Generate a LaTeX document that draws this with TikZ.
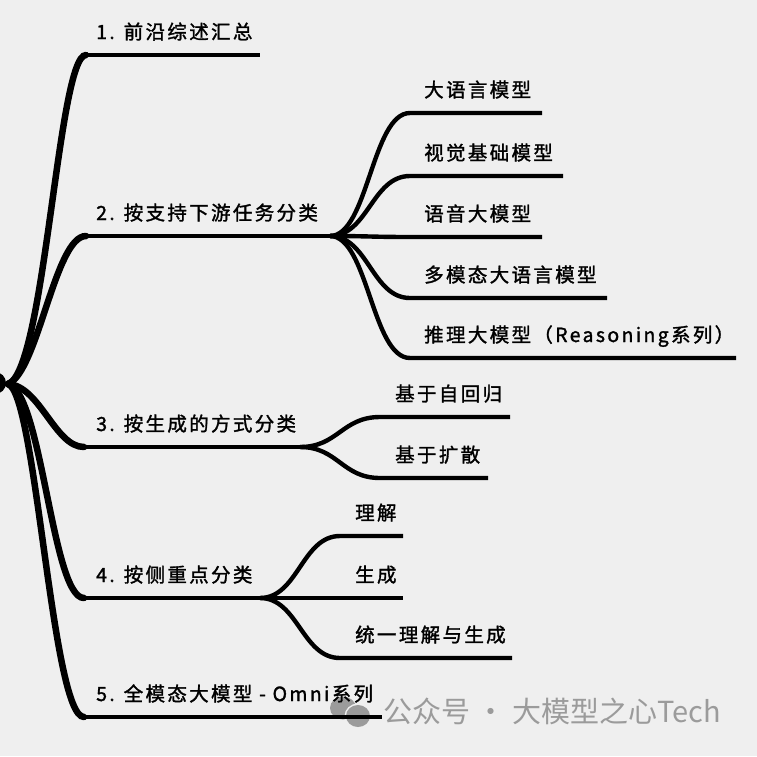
\documentclass[tikz,border=0pt]{standalone}
\usepackage{fontspec}
\newfontfamily\cjk[LetterSpace=12,FakeBold=1.5]{Noto Sans CJK SC}
\newfontfamily\wmfont{Noto Sans CJK SC}
\usetikzlibrary{positioning}
\definecolor{paper}{RGB}{239,239,239}
\definecolor{wmgray}{RGB}{155,155,155}

\tikzset{
	stem/.style={line width=6.5pt, line cap=round},
	bar/.style={line width=4.8pt, line cap=butt},
	twig/.style={line width=4.4pt, line cap=butt},
	lbl/.style={font=\cjk\fontsize{19.5}{22}\selectfont, anchor=base west, inner sep=0pt},
}

\begin{document}
\begin{tikzpicture}[x=1pt,y=-1pt]
	\fill[paper] (0,0) rectangle (757,756);
	\useasboundingbox (0,0) rectangle (757,756);
	
	% watermark icon, under the lines
	\fill[wmgray] (343,708) ellipse (13 and 11.5);
	\fill[paper] (358,716) ellipse (13.5 and 12.5);
	\fill[wmgray] (358,716) ellipse (12 and 11);
	
	% root
	\coordinate (root) at (8,384);
	\fill (-5,383) circle (11pt);
	
	% main branches
	\coordinate (s1) at (86,55);   \coordinate (e1) at (260,55);
	\coordinate (s2) at (86,236);  \coordinate (f2) at (330,236);
	\coordinate (s3) at (84,447);  \coordinate (f3) at (300,447);
	\coordinate (s4) at (84,598);  \coordinate (f4) at (260,598);
	\coordinate (s5) at (84,717);  \coordinate (e5) at (382,717);
	
	\draw[stem] (root) .. controls (45,372) and (58,55) .. (s1);
	\draw[stem] (root) .. controls (38,372) and (55,236) .. (s2);
	\draw[stem] (root) .. controls (40,386) and (55,447) .. (s3);
	\draw[stem] (root) .. controls (42,392) and (52,598) .. (s4);
	\draw[stem] (root) .. controls (36,392) and (52,717) .. (s5);
	\draw[bar] (s1) -- (e1);
	\draw[bar] (s2) -- (f2);
	\draw[bar] (s3) -- (f3);
	\draw[bar] (s4) -- (f4);
	\draw[bar] (s5) -- (e5);
	
	\node[lbl] (t1) at (96,39)  {1. 前沿综述汇总};
	\node[lbl] (t2) at (96,220) {2. 按支持下游任务分类};
	\node[lbl] (t3) at (96,431) {3. 按生成的方式分类};
	\node[lbl] (t4) at (96,582) {4. 按侧重点分类};
	\node[lbl] (t5) at (96,701) {5. 全模态大模型 - Omni系列};
	
	% leaves of 2
	\foreach \y/\xe/\txt [count=\i] in {113/542/大语言模型, 176/563/视觉基础模型,
		237/542/语音大模型, 298/607/多模态大语言模型, 358/736/推理大模型（Reasoning系列）}{
		\coordinate (a\i) at (410,\y);
		\coordinate (ae\i) at (\xe,\y);
		\draw[twig] (f2) .. controls (368,236) and (372,\y) .. (a\i) -- (ae\i);
		\node[lbl] (la\i) at (424,\y-16) {\txt};
	}
	
	% leaves of 3
	\foreach \y/\xe/\txt [count=\i] in {417/510/基于自回归, 478/488/基于扩散}{
		\coordinate (b\i) at (380,\y);
		\coordinate (be\i) at (\xe,\y);
		\draw[twig] (f3) .. controls (338,447) and (342,\y) .. (b\i) -- (be\i);
		\node[lbl] (lb\i) at (395,\y-16) {\txt};
	}
	
	% leaves of 4
	\foreach \y/\xe/\txt [count=\i] in {536/403/理解, 598/403/生成, 658/512/统一理解与生成}{
		\coordinate (c\i) at (340,\y);
		\coordinate (ce\i) at (\xe,\y);
		\draw[twig] (f4) .. controls (298,598) and (302,\y) .. (c\i) -- (ce\i);
		\node[lbl] (lc\i) at (355,\y-16) {\txt};
	}
	
	% watermark text
	\node[font=\wmfont\fontsize{29}{31}\selectfont, text=wmgray, anchor=west, inner sep=0pt] (wm) at (383,711) {公众号 · 大模型之心Tech};
\end{tikzpicture}
\end{document}
